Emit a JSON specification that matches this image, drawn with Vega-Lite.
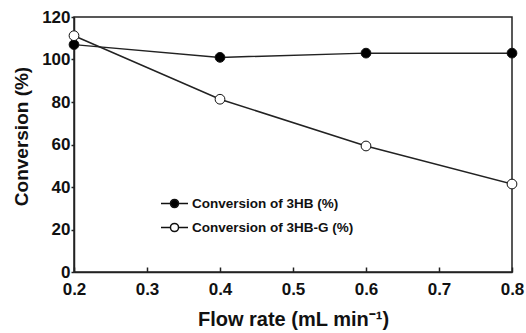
{
  "$schema": "https://vega.github.io/schema/vega-lite/v6.json",
  "width": 438,
  "height": 255,
  "autosize": "none",
  "padding": {"left": 74, "top": 17, "right": 14, "bottom": 61},
  "background": "white",
  "config": {
    "font": "Liberation Sans",
    "view": {"stroke": "#222", "strokeWidth": 1.5}
  },
  "data": {
    "values": [
      {"flow": 0.2, "conv": 107, "series": "Conversion of 3HB (%)"},
      {"flow": 0.4, "conv": 101, "series": "Conversion of 3HB (%)"},
      {"flow": 0.6, "conv": 103, "series": "Conversion of 3HB (%)"},
      {"flow": 0.8, "conv": 103, "series": "Conversion of 3HB (%)"},
      {"flow": 0.2, "conv": 111.2, "series": "Conversion of 3HB-G (%)"},
      {"flow": 0.4, "conv": 81.3, "series": "Conversion of 3HB-G (%)"},
      {"flow": 0.6, "conv": 59.3, "series": "Conversion of 3HB-G (%)"},
      {"flow": 0.8, "conv": 41.4, "series": "Conversion of 3HB-G (%)"}
    ]
  },
  "encoding": {
    "x": {
      "field": "flow", "type": "quantitative",
      "scale": {"domain": [0.2, 0.8], "nice": false, "zero": false},
      "axis": {
        "title": "Flow rate (mL min⁻¹)", "values": [0.2, 0.3, 0.4, 0.5, 0.6, 0.7, 0.8],
        "format": ".1f", "grid": false, "domainColor": "#222", "domainWidth": 1.5,
        "tickColor": "#222", "tickSize": -5, "tickWidth": 1.5,
        "labelFont": "Liberation Sans", "labelFontWeight": "bold", "labelFontSize": 17, "labelColor": "#111",
        "labelPadding": 14, "labelFlush": false,
        "titleFont": "Liberation Sans", "titleFontWeight": "bold", "titleFontSize": 20, "titleColor": "#111",
        "titlePadding": 12
      }
    },
    "y": {
      "field": "conv", "type": "quantitative",
      "scale": {"domain": [0, 120], "nice": false},
      "axis": {
        "title": "Conversion (%)", "values": [0, 20, 40, 60, 80, 100, 120],
        "grid": false, "domainColor": "#222", "domainWidth": 1.5,
        "tickColor": "#222", "tickSize": 3, "tickWidth": 1.5,
        "labelFont": "Liberation Sans", "labelFontWeight": "bold", "labelFontSize": 17, "labelColor": "#111",
        "labelPadding": 1,
        "titleFont": "Liberation Sans", "titleFontWeight": "bold", "titleFontSize": 19, "titleColor": "#111",
        "titleAngle": 270, "titleAlign": "center", "titleBaseline": "middle",
        "titleX": -53, "titleY": 119
      }
    }
  },
  "layer": [
    {
      "mark": {"type": "line", "color": "#222", "strokeWidth": 1.5},
      "encoding": {"detail": {"field": "series"}}
    },
    {
      "mark": {"type": "point", "filled": true, "size": 95, "stroke": "#111", "strokeWidth": 1, "opacity": 1},
      "encoding": {
        "fill": {
          "field": "series", "type": "nominal",
          "scale": {"domain": ["Conversion of 3HB (%)", "Conversion of 3HB-G (%)"], "range": ["#000000", "#ffffff"]},
          "legend": {
            "title": null, "orient": "none", "legendX": 86, "legendY": 172,
            "symbolType": "M-1,0H-0.3M0.3,0H1M0.3,0A0.3,0.3 0 1,1 -0.3,0A0.3,0.3 0 1,1 0.3,0",
            "symbolSize": 729, "symbolStrokeColor": "#111", "symbolStrokeWidth": 1.5,
            "labelFont": "Liberation Sans", "labelFontWeight": "bold", "labelFontSize": 13.5, "labelColor": "#111",
            "labelLimit": 400, "rowPadding": 2, "labelOffset": 3
          }
        }
      }
    }
  ]
}
